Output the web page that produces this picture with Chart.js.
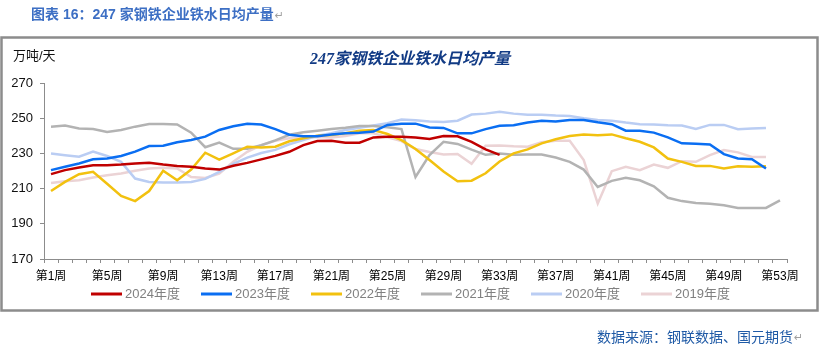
<!DOCTYPE html>
<html>
<head>
<meta charset="utf-8">
<script src="https://cdn.jsdelivr.net/npm/chart.js@4.4.1/dist/chart.umd.min.js"></script>
<style>
  html, body { margin: 0; padding: 0; background: #fff; }
</style>
</head>
<body>
<canvas id="chart" width="827" height="350"></canvas>
<script>
// categories: week 1 .. week 53
const weeks = Array.from({ length: 53 }, (_, i) => '第' + (i + 1) + '周');

const seriesNames = ['2024年度', '2023年度', '2022年度', '2021年度', '2020年度', '2019年度'];
const seriesColors = ['#C00000', '#0A6EF2', '#F2C10F', '#B3B3B3', '#BACDF3', '#EBD3D5'];

const y2024 = [218.2, 220.5, 222.0, 223.3, 223.3, 223.7, 224.3, 224.7, 223.7, 222.9,
  222.4, 221.4, 220.8, 223.0, 224.6, 226.6, 228.6, 230.9, 234.7, 237.0,
  237.2, 236.1, 236.1, 239.1, 239.5, 239.5, 239.1, 238.2, 239.9, 239.7,
  236.6, 232.3, 229.2];
const y2023 = [220.5, 222.4, 224.3, 226.7, 227.1, 228.5, 231.0, 234.2, 234.4, 236.3,
  237.6, 239.5, 243.3, 245.4, 246.9, 246.4, 243.8, 240.6, 239.7, 239.7,
  240.8, 241.4, 241.8, 242.4, 246.2, 246.9, 246.9, 244.7, 244.5, 241.4,
  241.4, 243.8, 245.7, 246.0, 247.5, 248.5, 248.1, 249.0, 249.0, 247.7,
  246.6, 242.9, 242.9, 241.8, 239.1, 235.7, 235.5, 235.1, 229.6, 227.1,
  226.7, 221.4];
const y2022 = [208.6, 213.8, 218.2, 219.5, 212.8, 205.8, 202.9, 208.6, 220.1, 214.7,
  220.8, 230.4, 226.4, 230.0, 233.8, 233.3, 233.8, 236.9, 238.6, 240.1,
  240.5, 241.4, 242.9, 243.3, 241.0, 237.5, 232.5, 226.2, 219.7, 214.2,
  214.5, 218.7, 225.4, 230.0, 232.3, 235.7, 238.0, 239.9, 240.8, 240.3,
  240.8, 238.6, 236.6, 233.4, 227.1, 225.2, 222.9, 222.9, 221.4, 222.7,
  222.4, 222.7];
const y2021 = [245.2, 245.8, 244.1, 243.9, 242.2, 243.3, 245.2, 246.7, 246.7, 246.4,
  241.8, 233.5, 236.1, 232.6, 232.6, 234.6, 237.4, 240.6, 242.0, 242.9,
  243.9, 244.6, 245.6, 245.6, 244.9, 243.8, 216.6, 229.0, 236.6, 235.4,
  232.1, 229.2, 229.9, 229.2, 229.4, 229.4, 227.7, 225.2, 220.8, 210.9,
  214.4, 216.1, 214.7, 211.3, 204.8, 202.9, 201.8, 201.4, 200.5, 199.0,
  199.0, 199.0, 203.3];
const y2020 = [230.0, 229.0, 228.1, 231.0, 228.5, 225.2, 215.7, 213.8, 213.4, 213.4,
  213.8, 215.5, 219.5, 224.0, 227.6, 230.2, 232.0, 235.2, 237.6, 240.0,
  241.4, 243.3, 244.6, 245.8, 247.1, 249.3, 248.8, 248.1, 247.8, 248.6,
  252.1, 252.6, 253.6, 252.6, 251.9, 251.9, 251.5, 251.3, 250.0, 249.0,
  248.6, 247.5, 246.6, 246.4, 246.0, 245.8, 243.9, 246.2, 246.2, 243.7,
  244.1, 244.5];
const y2019 = [213.2, 214.2, 214.7, 216.3, 217.6, 218.6, 220.1, 221.4, 221.8, 221.4,
  216.6, 216.0, 218.5, 225.2, 230.9, 234.7, 237.2, 238.6, 239.0, 239.3,
  239.0, 239.9, 241.4, 241.4, 239.1, 237.0, 232.5, 230.8, 229.4, 229.7,
  224.1, 234.4, 234.5, 234.0, 233.8, 236.3, 237.2, 237.2, 226.2, 201.5,
  219.9, 222.4, 220.5, 223.7, 221.8, 225.6, 225.2, 229.0, 231.9, 230.6,
  228.0, 228.0];

const yMin = 170, yMax = 270, yStep = 20;

const allSeries = [y2024, y2023, y2022, y2021, y2020, y2019];
const axisColor = '#8C8C8C';
const fontFamily = '"Liberation Sans", "Noto Sans CJK SC", sans-serif';

// frame, titles, legend and source note
const decor = {
    id: 'decor',
    beforeDraw(chart) {
        const ctx = chart.ctx;
        ctx.save();
        ctx.fillStyle = '#fff';
        ctx.fillRect(0, 0, chart.width, chart.height);
        ctx.strokeStyle = axisColor;
        ctx.lineWidth = 2.5;
        ctx.strokeRect(1.5, 37.5, 816, 273);
        ctx.restore();
    },
    afterDraw(chart) {
        const ctx = chart.ctx;
        ctx.save();
        ctx.textBaseline = 'middle';

        // header above the frame
        ctx.font = 'bold 14px "Liberation Sans", "Noto Sans CJK SC", sans-serif';
        ctx.fillStyle = '#3D6FC4';
        ctx.textAlign = 'left';
        const head = '图表 16：247 家钢铁企业铁水日均产量';
        ctx.fillText(head, 31, 15);
        const hw = ctx.measureText(head).width;
        ctx.font = '11px "DejaVu Sans", sans-serif';
        ctx.fillStyle = '#A0A0A0';
        ctx.fillText('↵', 31 + hw + 1, 16);

        // chart title
        ctx.font = 'italic bold 16px "Liberation Serif", "Noto Sans CJK SC", serif';
        ctx.fillStyle = '#123B85';
        ctx.textAlign = 'center';
        ctx.fillText('247家钢铁企业铁水日均产量', 410, 60);

        // unit
        ctx.font = '13px ' + fontFamily;
        ctx.fillStyle = '#111';
        ctx.textAlign = 'left';
        ctx.fillText('万吨/天', 13, 56);

        // legend
        ctx.font = '13px ' + fontFamily;
        chart.data.datasets.forEach((ds, i) => {
            const x0 = 91 + i * 110;
            ctx.strokeStyle = ds.borderColor;
            ctx.lineWidth = 3;
            ctx.beginPath();
            ctx.moveTo(x0, 294);
            ctx.lineTo(x0 + 31, 294);
            ctx.stroke();
            ctx.fillStyle = '#808080';
            ctx.fillText(ds.label, x0 + 34, 294);
        });

        // source note
        ctx.font = '14px "Noto Sans CJK SC", sans-serif';
        ctx.fillStyle = '#1F5AA6';
        const src = '数据来源：钢联数据、国元期货';
        ctx.fillText(src, 597, 337);
        const sw = ctx.measureText(src).width;
        ctx.font = '11px "DejaVu Sans", sans-serif';
        ctx.fillStyle = '#A0A0A0';
        ctx.fillText('↵', 597 + sw + 1, 338);
        ctx.restore();
    }
};

const ctx = document.getElementById('chart').getContext('2d');

new Chart(ctx, {
    type: 'line',
    data: {
        labels: weeks,
        datasets: allSeries.map((values, i) => ({
            label: seriesNames[i],
            data: values,
            borderColor: seriesColors[i],
            backgroundColor: seriesColors[i],
            borderWidth: 2.5,
            pointRadius: 0,
            tension: 0,
            fill: false,
        })),
    },
    options: {
        responsive: false,
        animation: false,
        events: [],
        layout: {
            padding: { left: 0, right: 40, top: 83, bottom: 65 },
        },
        plugins: {
            legend: { display: false },
            tooltip: { enabled: false },
        },
        scales: {
            x: {
                type: 'category',
                offset: true,
                grid: {
                    offset: true,
                    drawOnChartArea: false,
                    drawTicks: true,
                    tickLength: 4,
                    color: axisColor,
                },
                border: { color: axisColor, width: 1 },
                ticks: {
                    autoSkip: false,
                    maxRotation: 0,
                    minRotation: 0,
                    padding: 6,
                    color: '#000',
                    font: { family: fontFamily, size: 12 },
                    callback: (v, i) => (i % 4 === 0 ? weeks[i] : ''),
                },
                afterFit: (scale) => { scale.height = 26; },
            },
            y: {
                min: yMin,
                max: yMax,
                grid: {
                    drawOnChartArea: false,
                    drawTicks: true,
                    tickLength: 4,
                    color: axisColor,
                },
                border: { color: axisColor, width: 1 },
                ticks: {
                    stepSize: yStep,
                    padding: 7,
                    color: '#111',
                    font: { family: fontFamily, size: 13 },
                },
                afterFit: (scale) => { scale.width = 44; },
            },
        },
    },
    plugins: [decor],
});
</script>
</body>
</html>
